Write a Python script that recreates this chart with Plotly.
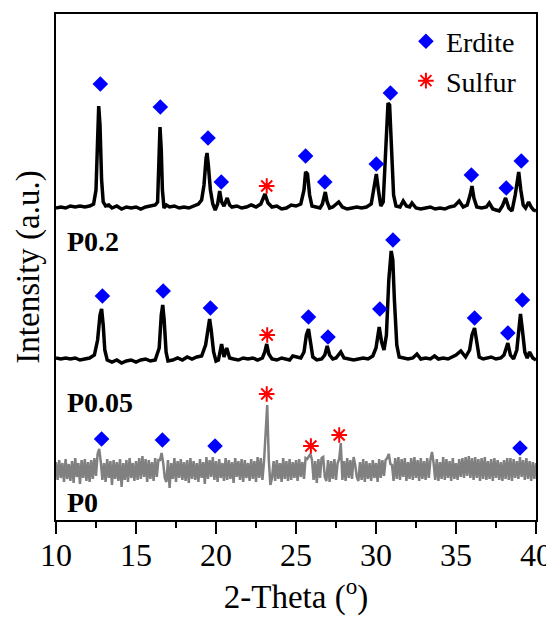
import numpy as np
import plotly.graph_objects as go

# ---------------- data ----------------
# P0.2 pattern (2-theta, intensity a.u.)
p02_x = [10.0, 10.3, 10.6, 10.9, 11.2, 11.5, 11.8, 12.1, 12.35, 12.5, 12.6, 12.67, 12.75, 12.85, 12.95,
         13.1, 13.3, 13.5, 13.8, 14.1, 14.4, 14.7, 15.0, 15.3, 15.6, 15.9, 16.2, 16.35, 16.45, 16.5,
         16.58, 16.65, 16.75, 16.9, 17.1, 17.4, 17.7, 18.0, 18.3, 18.6, 18.9, 19.1, 19.25, 19.38, 19.44,
         19.52, 19.65, 19.8, 19.95, 20.1, 20.23, 20.35, 20.5, 20.7, 20.85, 21.0, 21.3, 21.6, 21.9, 22.2,
         22.5, 22.8, 23.06, 23.25, 23.5, 23.8, 24.1, 24.4, 24.7, 25.0, 25.3, 25.5, 25.6, 25.72, 25.85,
         26.0, 26.3, 26.5, 26.65, 26.83, 26.95, 27.1, 27.3, 27.67, 27.9, 28.2, 28.5, 28.8, 29.1, 29.4,
         29.7, 29.85, 30.02, 30.15, 30.3, 30.45, 30.6, 30.75, 30.85, 30.98, 31.1, 31.25, 31.5, 31.7, 31.9,
         32.1, 32.25, 32.5, 32.8, 33.1, 33.4, 33.7, 34.0, 34.3, 34.6, 34.9, 35.2, 35.45, 35.7, 35.88,
         36.0, 36.12, 36.3, 36.6, 36.9, 37.08, 37.3, 37.5, 37.7, 37.9, 38.1, 38.3, 38.5, 38.7, 38.85,
         38.92, 39.05, 39.2, 39.35, 39.54, 39.7, 39.85, 40.0]
p02_y = [312, 313, 312, 314, 313, 314, 313, 314, 316, 330, 380, 414, 395, 340, 318,
         314, 315, 312, 314, 311, 313, 312, 313, 311, 313, 314, 315, 318, 370, 393,
         370, 330, 312, 315, 313, 314, 312, 313, 312, 314, 316, 320, 335, 362, 367,
         355, 330, 316, 310, 316, 329, 318, 314, 322, 315, 313, 314, 312, 313, 315,
         313, 316, 326, 317, 313, 314, 311, 312, 315, 314, 316, 330, 348, 346, 325,
         314, 313, 312, 316, 328, 318, 312, 313, 318, 313, 311, 312, 313, 312, 313,
         316, 330, 346, 330, 314, 318, 370, 417, 415, 370, 325, 314, 313, 319, 314,
         313, 317, 312, 311, 312, 313, 311, 312, 311, 313, 314, 319, 313, 315, 325,
         334, 322, 313, 312, 313, 317, 311, 310, 309, 314, 322, 312, 309, 325, 345,
         348, 330, 315, 312, 318, 313, 310, 309]

# P0.05 pattern
p005_x = [10.0, 10.3, 10.6, 10.9, 11.2, 11.5, 11.8, 12.1, 12.4, 12.6, 12.75, 12.85, 12.95, 13.05, 13.2,
          13.5, 13.8, 14.1, 14.4, 14.7, 15.0, 15.3, 15.6, 15.9, 16.2, 16.45, 16.58, 16.67, 16.76, 16.88,
          17.0, 17.3, 17.6, 17.9, 18.2, 18.5, 18.8, 19.1, 19.35, 19.5, 19.6, 19.7, 19.85, 20.0, 20.15,
          20.35, 20.5, 20.67, 20.85, 21.1, 21.4, 21.7, 22.0, 22.3, 22.6, 22.9, 23.05, 23.17, 23.3, 23.5,
          23.8, 24.1, 24.4, 24.6, 24.8, 25.0, 25.3, 25.5, 25.65, 25.78, 25.9, 26.05, 26.3, 26.6, 26.8,
          26.95, 27.1, 27.3, 27.5, 27.8, 28.0, 28.3, 28.6, 28.9, 29.2, 29.5, 29.8, 30.0, 30.2, 30.35,
          30.5, 30.65, 30.8, 30.95, 31.05, 31.15, 31.3, 31.45, 31.7, 32.0, 32.3, 32.56, 32.8, 33.1, 33.4,
          33.66, 33.9, 34.2, 34.5, 34.8, 35.0, 35.3, 35.6, 35.85, 36.0, 36.16, 36.3, 36.45, 36.7, 37.0,
          37.2, 37.5, 37.8, 38.0, 38.12, 38.24, 38.4, 38.6, 38.8, 38.95, 39.03, 39.15, 39.3, 39.45, 39.6,
          39.8, 40.0]
p005_y = [162, 161, 162, 161, 162, 160, 161, 162, 165, 180, 205, 211, 195, 170, 160,
          158, 160, 157, 159, 160, 158, 160, 161, 159, 160, 172, 205, 215, 200, 168,
          159, 160, 162, 160, 163, 161, 163, 164, 175, 195, 201, 190, 168, 159, 160,
          176, 163, 172, 162, 161, 160, 162, 161, 162, 160, 162, 168, 176, 166, 161,
          160, 162, 161, 160, 164, 163, 162, 168, 185, 191, 180, 163, 160, 161, 165,
          174, 165, 161, 162, 168, 162, 161, 160, 161, 162, 161, 164, 172, 193, 178,
          170, 185, 240, 269, 260, 220, 175, 163, 162, 161, 162, 166, 161, 162, 161,
          164, 161, 162, 161, 163, 165, 169, 163, 170, 185, 192, 178, 163, 161, 162,
          163, 161, 162, 165, 172, 177, 165, 161, 170, 200, 206, 190, 168, 162, 168,
          162, 160]

# P0 pattern, one value every 0.1 degree from 10.0 to 40.0
p0_start, p0_step = 10.0, 0.1
p0_y = [
    58, 40, 60, 42, 57, 38, 61, 41, 56, 39,
    59, 37, 62, 43, 57, 36, 60, 42, 61, 39,
    58, 38, 60, 41, 62, 44, 66, 71, 58, 40,
    57, 38, 61, 42, 59, 35, 60, 41, 58, 39,
    61, 33, 57, 40, 60, 38, 62, 42, 57, 39,
    59, 40, 62, 41, 64, 43, 61, 38, 60, 41,
    58, 39, 62, 43, 60, 60, 67, 57, 42, 38,
    60, 32, 57, 41, 62, 38, 59, 42, 61, 40,
    58, 39, 60, 37, 62, 41, 59, 40, 57, 38,
    61, 42, 58, 36, 63, 41, 60, 43, 63, 40,
    59, 38, 61, 42, 57, 39, 62, 40, 60, 41,
    58, 37, 62, 43, 59, 40, 61, 38, 60, 42,
    57, 39, 61, 41, 59, 38, 63, 42, 62, 40,
    58, 90, 115, 60, 35, 42, 59, 39, 60, 41,
    57, 38, 62, 41, 59, 39, 61, 40, 58, 42,
    60, 39, 61, 43, 58, 41, 62, 61, 64, 66,
    60, 40, 59, 37, 61, 42, 62, 63, 43, 39,
    60, 38, 59, 41, 61, 40, 57, 61, 77, 40,
    59, 39, 62, 42, 60, 41, 63, 55, 43, 39,
    58, 40, 61, 38, 59, 41, 57, 39, 60, 42,
    57, 38, 61, 42, 60, 44, 60, 62, 66, 56,
    55, 39, 62, 41, 63, 40, 61, 43, 62, 39,
    58, 41, 62, 40, 63, 42, 60, 39, 62, 41,
    59, 40, 62, 42, 60, 68, 57, 40, 61, 39,
    58, 41, 63, 40, 61, 42, 59, 39, 62, 41,
    57, 40, 61, 43, 62, 42, 63, 44, 64, 42,
    62, 40, 63, 42, 61, 39, 62, 41, 63, 40,
    59, 41, 61, 39, 62, 42, 60, 40, 58, 39,
    60, 41, 62, 40, 62, 39, 61, 42, 59, 41,
    63, 43, 60, 40, 62, 41, 59, 39, 58, 41,
    57]
p0_x = [round(p0_start + i * p0_step, 2) for i in range(len(p0_y))]

# Phase markers
erdite_x = [12.77, 16.52, 19.5, 20.33, 25.6, 26.8, 30.02, 30.9, 35.96, 38.14, 39.08,
            12.9, 16.7, 19.65, 25.78, 27.0, 30.24, 31.06, 36.16, 38.24, 39.15,
            12.85, 16.65, 19.94, 39.0]
erdite_y = [436, 413, 382, 338, 364, 338, 356, 427, 345, 332, 359,
            224, 229, 212, 203, 183, 211, 280, 202, 187, 220,
            81, 80, 74, 72]
sulfur_x = [23.17, 23.2, 23.17, 25.93, 27.7]
sulfur_y = [334, 185, 126, 74, 85]

# Sample labels
sample_names = ["P0.2", "P0.05", "P0"]
sample_label_y = [279, 118, 18]

x_ticks = [10, 15, 20, 25, 30, 35, 40]

# ---------------- figure ----------------
FONT = "Liberation Serif"

fig = go.Figure()
fig.add_trace(go.Scatter(x=p0_x, y=p0_y, mode="lines",
                         line=dict(color="#808080", width=2.5), showlegend=False))
fig.add_trace(go.Scatter(x=p005_x, y=p005_y, mode="lines",
                         line=dict(color="black", width=3.5), showlegend=False))
fig.add_trace(go.Scatter(x=p02_x, y=p02_y, mode="lines",
                         line=dict(color="black", width=3.5), showlegend=False))
fig.add_trace(go.Scatter(x=erdite_x, y=erdite_y, mode="markers", name="Erdite",
                         marker=dict(symbol="diamond", size=12, color="#0000FF",
                                     line=dict(width=0))))
fig.add_trace(go.Scatter(x=sulfur_x, y=sulfur_y, mode="markers", name="Sulfur",
                         marker=dict(symbol="asterisk", size=13, color="#FF0000",
                                     line=dict(color="#FF0000", width=2))))

for name, yv in zip(sample_names, sample_label_y):
    fig.add_annotation(x=0.019, xref="paper", y=yv, yref="y", text="<b>%s</b>" % name,
                       showarrow=False, xanchor="left", yanchor="middle",
                       font=dict(family=FONT, size=28, color="black"))

# the page body adds an 8 px offset; the figure is sized to fit the 554x622 window
fig.update_layout(
    width=546, height=614,
    margin=dict(l=48, r=18, t=6, b=102, autoexpand=False),
    paper_bgcolor="white", plot_bgcolor="white",
    font=dict(family=FONT, color="black"),
    legend=dict(x=0.729, y=0.995, xanchor="left", yanchor="top",
                bgcolor="rgba(0,0,0,0)", font=dict(family=FONT, size=28),
                itemwidth=30, tracegroupgap=0),
)
fig.update_xaxes(
    range=[10, 40], tickvals=x_ticks, ticktext=[str(t) for t in x_ticks],
    showline=True, linecolor="black", linewidth=2, mirror=True,
    ticks="outside", ticklen=12, tickwidth=2, tickcolor="black",
    minor=dict(dtick=2.5, ticks="outside", ticklen=6, tickwidth=2, tickcolor="black"),
    showgrid=False, zeroline=False, automargin=False,
    tickfont=dict(family=FONT, size=32), ticklabelstandoff=-6,
    title=dict(text="2-Theta (<sup>o</sup>)", font=dict(family=FONT, size=33), standoff=4),
)
fig.update_yaxes(
    range=[0, 506], showticklabels=False, ticks="",
    showline=True, linecolor="black", linewidth=2, mirror=True,
    showgrid=False, zeroline=False, automargin=False,
    title=dict(text="Intensity (a.u.)", font=dict(family=FONT, size=33), standoff=4),
)

fig.write_html("out.html")
